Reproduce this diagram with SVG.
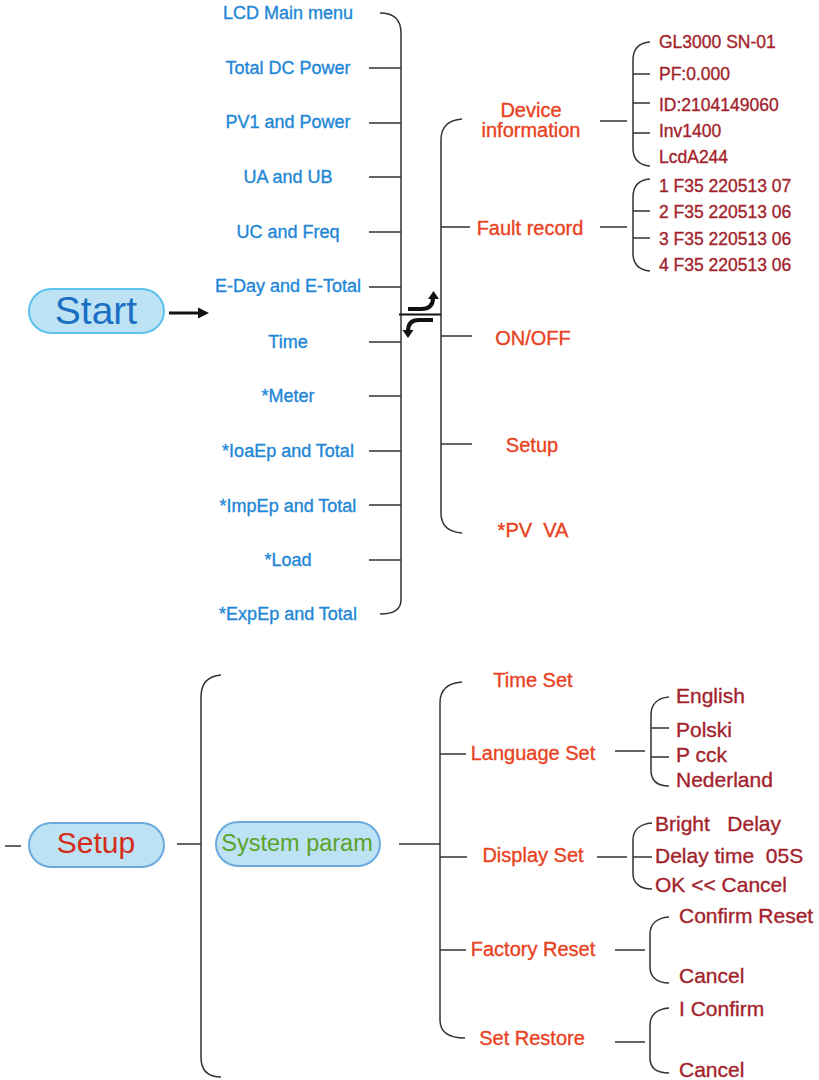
<svg xmlns="http://www.w3.org/2000/svg" width="819" height="1080" viewBox="0 0 819 1080">
<defs>
<style>
text{font-family:"Liberation Sans",Arial,sans-serif;stroke-width:0.35}
.b{fill:#2287d6;stroke:#2287d6;font-size:18px;text-anchor:middle}
.r{fill:#e8421e;stroke:#e8421e;font-size:20px;text-anchor:middle}
.d{fill:#a3232c;stroke:#a3232c;font-size:17.5px}
.d2{fill:#a3232c;stroke:#a3232c;font-size:21px}
.ln{fill:none;stroke:#333;stroke-width:1.5}
.pill{fill:#bde2f3;stroke-width:2}
.blk{fill:none;stroke:#111;stroke-width:4}
</style>
</defs>
<rect width="819" height="1080" fill="#fff"/>

<g id="connectors">
<!-- main menu bracket -->
<path class="ln" d="M380,13 C395,13 401,20 401,33 L401,600 C401,608 395,614 380,614"/>
<path class="ln" d="M369,68H401M369,123H401M369,177H401M369,232H401M369,287H401M369,342H401M369,396H401M369,451H401M369,505H401M369,560H401"/>
<!-- second bracket -->
<path class="ln" d="M462,119 C448,120 441,127 441,140 L441,513 C441,525 448,532 462,533"/>
<path class="ln" d="M441,227H470M441,336H472M441,444H472"/>
<path fill="none" stroke="#111" stroke-width="2" d="M399,314.5H441"/>
<!-- break arrows -->
<path class="blk" d="M408,309 L421,309 C429,309 433,305 433,298"/>
<polygon points="428,299 433.5,291 439,299" fill="#111"/>
<path class="blk" d="M433,320 L419,320 C411,320 408,324 408,331"/>
<polygon points="402.5,330 408,338 413.5,330" fill="#111"/>
<!-- start arrow -->
<line x1="169" y1="313" x2="200" y2="313" stroke="#111" stroke-width="3"/>
<polygon points="198,307.5 209,313 198,318.5" fill="#111"/>
<!-- device info -->
<path class="ln" d="M600,121H627"/>
<path class="ln" d="M650,42 C638,43 633,50 633,60 L633,148 C633,158 638,165 650,166"/>
<path class="ln" d="M633,74H650M633,103H650M633,133H650"/>
<!-- fault record -->
<path class="ln" d="M600,227H627"/>
<path class="ln" d="M650,179 C638,180 633,187 633,197 L633,253 C633,263 638,270 650,271"/>
<path class="ln" d="M633,211H650M633,238H650"/>
<!-- bottom -->
<path class="ln" d="M5,846H21M177,844H201M399,844H440"/>
<path class="ln" d="M221,675 C208,676 201,683 201,697 L201,1057 C201,1070 208,1077 221,1077"/>
<path class="ln" d="M462,682 C448,683 440,690 440,703 L440,1020 C440,1032 448,1038 465,1038"/>
<path class="ln" d="M440,754H466M440,857H467M440,950H466"/>
<path class="ln" d="M615,751H645M597,857H627M615,950H645M615,1042H645"/>
<path class="ln" d="M669,697 C657,698 651,705 651,715 L651,770 C651,780 657,786 669,786"/>
<path class="ln" d="M651,728H669M651,757H669"/>
<path class="ln" d="M652,823 C640,824 633,830 633,840 L633,874 C633,883 640,889 652,889"/>
<path class="ln" d="M633,857H652"/>
<path class="ln" d="M669,917 C657,918 650,924 650,934 L650,967 C650,977 657,983 669,983"/>
<path class="ln" d="M669,1008 C657,1009 650,1015 650,1025 L650,1058 C650,1068 657,1073 669,1073"/>
</g>

<g id="start">
<rect class="pill" x="29" y="289" width="135" height="44" rx="22" stroke="#5cc2ee"/>
<text x="96" y="324" font-size="39" fill="#1a6fc4" text-anchor="middle">Start</text>
</g>

<g id="main-menu">
<text class="b" x="288" y="19">LCD Main menu</text>
<text class="b" x="288" y="74">Total DC Power</text>
<text class="b" x="288" y="128">PV1 and Power</text>
<text class="b" x="288" y="183">UA and UB</text>
<text class="b" x="288" y="238">UC and Freq</text>
<text class="b" x="288" y="292">E-Day and E-Total</text>
<text class="b" x="288" y="348">Time</text>
<text class="b" x="288" y="402">*Meter</text>
<text class="b" x="288" y="457">*IoaEp and Total</text>
<text class="b" x="288" y="512">*ImpEp and Total</text>
<text class="b" x="288" y="566">*Load</text>
<text class="b" x="288" y="620">*ExpEp and Total</text>
</g>

<g id="submenu">
<text class="r" x="531" y="117">Device</text>
<text class="r" x="531" y="137">information</text>
<text class="r" x="530" y="235">Fault record</text>
<text class="r" x="533" y="345">ON/OFF</text>
<text class="r" x="532" y="452">Setup</text>
<text class="r" x="533" y="537" xml:space="preserve">*PV  VA</text>
</g>

<g id="device-info">
<text class="d" x="659" y="48">GL3000 SN-01</text>
<text class="d" x="659" y="80">PF:0.000</text>
<text class="d" x="659" y="111">ID:2104149060</text>
<text class="d" x="659" y="137">Inv1400</text>
<text class="d" x="659" y="163">LcdA244</text>
</g>

<g id="fault-record">
<text class="d" x="659" y="192">1 F35 220513 07</text>
<text class="d" x="659" y="218">2 F35 220513 06</text>
<text class="d" x="659" y="245">3 F35 220513 06</text>
<text class="d" x="659" y="271">4 F35 220513 06</text>
</g>

<g id="setup">
<rect class="pill" x="29" y="823" width="135" height="44" rx="22" stroke="#6aaade"/>
<text x="96" y="853" font-size="30" fill="#d42b1a" text-anchor="middle">Setup</text>
</g>

<g id="system-param">
<rect class="pill" x="216" y="822" width="164" height="44" rx="22" stroke="#6aaade"/>
<text x="297" y="851" font-size="23.5" fill="#5aa22a" text-anchor="middle">System param</text>
</g>

<g id="system-items">
<text class="r" x="533" y="687">Time Set</text>
<text class="r" x="533" y="760">Language Set</text>
<text class="r" x="533" y="862">Display Set</text>
<text class="r" x="533" y="956">Factory Reset</text>
<text class="r" x="532" y="1045">Set Restore</text>
</g>

<g id="language">
<text class="d2" x="676" y="703">English</text>
<text class="d2" x="676" y="737">Polski</text>
<text class="d2" x="676" y="762">P cck</text>
<text class="d2" x="676" y="787">Nederland</text>
</g>

<g id="display">
<text class="d2" x="655" y="831" xml:space="preserve">Bright   Delay</text>
<text class="d2" x="655" y="863" xml:space="preserve">Delay time  05S</text>
<text class="d2" x="655" y="892">OK &lt;&lt; Cancel</text>
</g>

<g id="factory">
<text class="d2" x="679" y="923">Confirm Reset</text>
<text class="d2" x="679" y="983">Cancel</text>
</g>

<g id="restore">
<text class="d2" x="679" y="1016">I Confirm</text>
<text class="d2" x="679" y="1077">Cancel</text>
</g>
</svg>
